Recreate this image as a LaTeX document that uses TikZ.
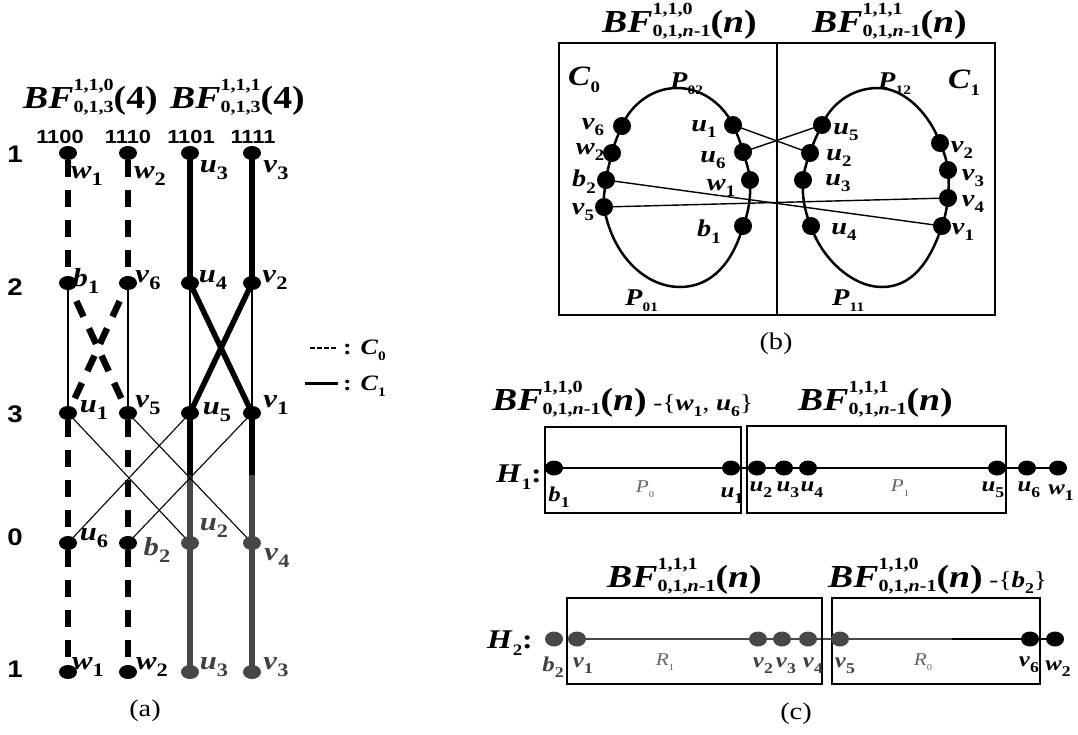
\documentclass[tikz,border=0pt]{standalone}
\usepackage{fontspec}
\setmainfont{Liberation Serif}[FakeStretch=1.18]
\newfontfamily\arialf{Liberation Sans}[FakeStretch=1.15]
\usetikzlibrary{shapes.geometric}
\pgfdeclarelayer{bg}
\pgfsetlayers{bg,main}
\newcommand\subsz{16}
\newcommand\lbl[2]{\textbf{\textit{#1}}\raisebox{-0.28em}{\fontsize{\subsz}{\subsz}\selectfont\bfseries #2}}
\newcommand\BFx[3]{\textbf{\textit{BF}}\rlap{\raisebox{0.55em}{\fontsize{\subsz}{\subsz}\selectfont\bfseries #1}}\raisebox{-0.15em}{\fontsize{\subsz}{\subsz}\selectfont\bfseries #2}\textbf{(#3)}}
\newcommand\plbl[2]{\textit{#1}\raisebox{-0.3em}{\fontsize{9}{9}\selectfont #2}}
\tikzset{
  every node/.style={inner sep=0pt},
  adot/.style={ellipse, fill=black, minimum width=18pt, minimum height=14pt},
  bdot/.style={circle, fill=black, minimum size=18pt},
  cdot/.style={ellipse, fill=black, minimum width=18pt, minimum height=15pt},
  gcol/.style={fill=black!72},
  gtxt/.style={text=black!75},
  labA/.style={font=\fontsize{26}{26}\selectfont\def\subsz{19}},
  labB/.style={font=\fontsize{24}{24}\selectfont\def\subsz{16}},
  labC/.style={font=\fontsize{21}{21}\selectfont\def\subsz{15}},
  labP/.style={anchor=base west, font=\fontsize{24}{24}\selectfont\def\subsz{13}},
  labH/.style={anchor=base west, font=\fontsize{27}{30}\selectfont\def\subsz{16}},
  labL/.style={anchor=west, font=\fontsize{22}{22}\selectfont\def\subsz{13}},
  labR/.style={font=\fontsize{18}{18}\selectfont, text=black!60},
  ttl/.style={anchor=base west, font=\fontsize{32}{32}\selectfont\def\subsz{17}},
  hdr/.style={font=\arialf\bfseries\fontsize{19}{19}\selectfont},
  rowlab/.style={font=\arialf\bfseries\fontsize{24}{24}\selectfont},
  capt/.style={font=\fontsize{24}{24}\selectfont},
  tdash/.style={line width=6.5pt, dash pattern=on 17pt off 13pt, dash phase=23pt},
  tsol/.style={line width=5.5pt},
  thn/.style={line width=1.1pt},
  pathl/.style={line width=2.6pt},
  boxl/.style={line width=1.3pt},
  loopl/.style={line width=2.5pt}
}
\begin{document}
\begin{tikzpicture}[x=1pt,y=-1pt]
\path[use as bounding box] (0,0) rectangle (1078,734);

% ===================== (a) =====================
\node[ttl] (ta1) at (23,108) {\BFx{1,1,0}{0,1,3}{4}};
\node[ttl] (ta2) at (170,108) {\BFx{1,1,1}{0,1,3}{4}};
\node[hdr] (h1) at (60,137) {1100};
\node[hdr] (h2) at (128,137) {1110};
\node[hdr] (h3) at (191,137) {1101};
\node[hdr] (h4) at (253,137) {1111};
\node[rowlab] (r1) at (15,154) {1};
\node[rowlab] (r2) at (15,287) {2};
\node[rowlab] (r3) at (15,414) {3};
\node[rowlab] (r0) at (15,537) {0};
\node[rowlab] (r4) at (15,669) {1};

\node[adot] (aw1t) at (68,153) {};
\node[adot] (aw2t) at (128,153) {};
\node[adot] (au3t) at (190,153) {};
\node[adot] (av3t) at (252,153) {};
\node[adot] (ab1) at (68,283) {};
\node[adot] (av6) at (128,283) {};
\node[adot] (au4) at (190,283) {};
\node[adot] (av2) at (252,283) {};
\node[adot] (au1) at (68,413) {};
\node[adot] (av5) at (128,413) {};
\node[adot] (au5) at (190,413) {};
\node[adot] (av1) at (252,413) {};
\node[adot] (au6) at (68,543) {};
\node[adot] (ab2) at (128,543) {};
\node[adot,gcol] (au2) at (190,543) {};
\node[adot,gcol] (av4) at (252,543) {};
\node[adot] (aw1b) at (68,672) {};
\node[adot] (aw2b) at (128,672) {};
\node[adot,gcol] (au3b) at (190,672) {};
\node[adot,gcol] (av3b) at (252,672) {};
\coordinate (g3) at (190,475);
\coordinate (g4) at (252,475);

\node[labA] (law1t) at (87,176) {\lbl{w}{1}};
\node[labA] (law2t) at (150,176) {\lbl{w}{2}};
\node[labA] (lau3t) at (214,170) {\lbl{u}{3}};
\node[labA] (lav3t) at (276,170) {\lbl{v}{3}};
\node[labA] (lab1) at (86,281) {\lbl{b}{1}};
\node[labA] (lav6) at (148,280) {\lbl{v}{6}};
\node[labA] (lau4) at (213,280) {\lbl{u}{4}};
\node[labA] (lav2) at (275,280) {\lbl{v}{2}};
\node[labA] (lau1) at (94,410) {\lbl{u}{1}};
\node[labA] (lav5) at (148,405) {\lbl{v}{5}};
\node[labA] (lau5) at (217,412) {\lbl{u}{5}};
\node[labA] (lav1) at (276,405) {\lbl{v}{1}};
\node[labA] (lau6) at (94,538) {\lbl{u}{6}};
\node[labA,gtxt] (lab2) at (157,550) {\lbl{b}{2}};
\node[labA,gtxt] (lau2) at (214,528) {\lbl{u}{2}};
\node[labA,gtxt] (lav4) at (277,558) {\lbl{v}{4}};
\node[labA] (law1b) at (88,667) {\lbl{w}{1}};
\node[labA] (law2b) at (152,667) {\lbl{w}{2}};
\node[labA,gtxt] (lau3b) at (214,667) {\lbl{u}{3}};
\node[labA,gtxt] (lav3b) at (276,667) {\lbl{v}{3}};

\begin{pgfonlayer}{bg}
  % column 1
  \draw[tdash] (aw1t.center) -- (ab1.center);
  \draw[thn] (ab1.center) -- (au1.center);
  \draw[tdash] (au1.center) -- (au6.center);
  \draw[tdash] (au6.center) -- (aw1b.center);
  % column 2
  \draw[tdash] (aw2t.center) -- (av6.center);
  \draw[thn] (av6.center) -- (av5.center);
  \draw[tdash] (av5.center) -- (ab2.center);
  \draw[tdash] (ab2.center) -- (aw2b.center);
  % column 3
  \draw[tsol] (au3t.center) -- (au4.center);
  \draw[thn] (au4.center) -- (au5.center);
  \draw[tsol] (au5.center) -- (g3);
  \draw[tsol,black!72] (g3) -- (au2.center);
  \draw[tsol,black!72] (au2.center) -- (au3b.center);
  % column 4
  \draw[tsol] (av3t.center) -- (av2.center);
  \draw[thn] (av2.center) -- (av1.center);
  \draw[tsol] (av1.center) -- (g4);
  \draw[tsol,black!72] (g4) -- (av4.center);
  \draw[tsol,black!72] (av4.center) -- (av3b.center);
  % crosses rows 2-3
  \draw[tdash,dash phase=10pt] (ab1.center) -- (av5.center);
  \draw[tdash,dash phase=10pt] (av6.center) -- (au1.center);
  \draw[tsol] (au4.center) -- (av1.center);
  \draw[tsol] (av2.center) -- (au5.center);
  % crosses rows 3-0
  \draw[thn] (au1.center) -- (au2.center);
  \draw[thn] (av5.center) -- (av4.center);
  \draw[thn] (au5.center) -- (au6.center);
  \draw[thn] (av1.center) -- (ab2.center);
\end{pgfonlayer}

% legend
\coordinate (lg0a) at (310,348);
\coordinate (lg0b) at (337,348);
\draw[line width=1.8pt, dash pattern=on 5pt off 2pt] (lg0a) -- (lg0b);
\node[labL] (lgc0) at (343,350) {\textbf{:} \lbl{C}{0}};
\coordinate (lg1a) at (305,383);
\coordinate (lg1b) at (338,383);
\draw[line width=3pt] (lg1a) -- (lg1b);
\node[labL] (lgc1) at (343,386) {\textbf{:} \lbl{C}{1}};

\node[capt] (capa) at (145,711) {(a)};

% ===================== (b) =====================
\node[ttl] (tb1) at (602,32) {\BFx{1,1,0}{0,1,\textit{n}-1}{\textit{n}}};
\node[ttl] (tb2) at (812,32) {\BFx{1,1,1}{0,1,\textit{n}-1}{\textit{n}}};
\draw[boxl] (559,43) rectangle (995,315);
\draw[boxl] (777,43) -- (777,315);

\node[labP,font=\fontsize{28}{28}\selectfont\def\subsz{16}] (lc0) at (568,85) {\lbl{C}{0}};
\node[labP,font=\fontsize{28}{28}\selectfont\def\subsz{16}] (lc1) at (948,88) {\lbl{C}{1}};
\node[labP] (lp02) at (670,88) {\lbl{P}{02}};
\node[labP] (lp12) at (878,88) {\lbl{P}{12}};
\node[labP] (lp01) at (625,305) {\lbl{P}{01}};
\node[labP] (lp11) at (832,305) {\lbl{P}{11}};

\node[bdot] (bv6) at (622,126) {};
\node[bdot] (bw2) at (612,153) {};
\node[bdot] (bb2) at (606,180) {};
\node[bdot] (bv5) at (604,207) {};
\node[bdot] (bu1) at (733,125) {};
\node[bdot] (bu6) at (743,152) {};
\node[bdot] (bw1) at (750,180) {};
\node[bdot] (bb1) at (743,226) {};
\node[bdot] (bu5) at (822,125) {};
\node[bdot] (bu2) at (810,153) {};
\node[bdot] (bu3) at (803,180) {};
\node[bdot] (bu4) at (811,226) {};
\node[bdot] (bv2) at (940,143) {};
\node[bdot] (bv3) at (948,170) {};
\node[bdot] (bv4) at (948,198) {};
\node[bdot] (bv1) at (942,226) {};

\coordinate (L0top) at (677,88);
\coordinate (L0bot) at (680,287);
\coordinate (R0top) at (878,88);
\coordinate (R0bot) at (882,287);

\node[labB] (lbv6) at (593,127) {\lbl{v}{6}};
\node[labB] (lbw2) at (590,152) {\lbl{w}{2}};
\node[labB] (lbb2) at (584,182) {\lbl{b}{2}};
\node[labB] (lbv5) at (583,212) {\lbl{v}{5}};
\node[labB] (lbu1) at (704,129) {\lbl{u}{1}};
\node[labB] (lbu6) at (713,160) {\lbl{u}{6}};
\node[labB] (lbw1) at (721,188) {\lbl{w}{1}};
\node[labB] (lbb1) at (709,232) {\lbl{b}{1}};
\node[labB] (lbu5) at (846,132) {\lbl{u}{5}};
\node[labB] (lbu2) at (839,158) {\lbl{u}{2}};
\node[labB] (lbu3) at (838,183) {\lbl{u}{3}};
\node[labB] (lbu4) at (844,232) {\lbl{u}{4}};
\node[labB] (lbv2) at (962,150) {\lbl{v}{2}};
\node[labB] (lbv3) at (973,178) {\lbl{v}{3}};
\node[labB] (lbv4) at (973,204) {\lbl{v}{4}};
\node[labB] (lbv1) at (963,232) {\lbl{v}{1}};

\begin{pgfonlayer}{bg}
  \draw[loopl] (bv6.center) .. controls (628,110) and (648,88) .. (L0top)
     .. controls (705,88) and (725,108) .. (bu1.center)
     .. controls (737,134) and (741,143) .. (bu6.center)
     .. controls (746,161) and (749,170) .. (bw1.center)
     .. controls (751,195) and (749,212) .. (bb1.center)
     .. controls (733,262) and (712,287) .. (L0bot)
     .. controls (645,287) and (612,255) .. (bv5.center)
     .. controls (603,198) and (605,189) .. (bb2.center)
     .. controls (607,171) and (610,162) .. (bw2.center)
     .. controls (614,144) and (618,135) .. (bv6.center);
  \draw[loopl] (bu5.center) .. controls (830,106) and (850,88) .. (R0top)
     .. controls (905,88) and (930,115) .. (bv2.center)
     .. controls (944,152) and (947,161) .. (bv3.center)
     .. controls (949,180) and (949,189) .. (bv4.center)
     .. controls (947,208) and (945,217) .. (bv1.center)
     .. controls (930,262) and (912,287) .. (R0bot)
     .. controls (850,287) and (820,255) .. (bu4.center)
     .. controls (804,210) and (802,195) .. (bu3.center)
     .. controls (804,170) and (807,161) .. (bu2.center)
     .. controls (813,143) and (818,133) .. (bu5.center);
  \draw[line width=1.4pt] (bu1.center) -- (bu2.center);
  \draw[line width=1.4pt] (bu6.center) -- (bu5.center);
  \draw[line width=1.4pt] (bb2.center) -- (bv1.center);
  \draw[line width=1.4pt] (bv5.center) -- (bv4.center);
\end{pgfonlayer}

\node[capt] (capb) at (776,344) {(b)};

% ===================== (c) =====================
\node[ttl] (tc1) at (492,410) {\BFx{1,1,0}{0,1,\textit{n}-1}{\textit{n}}{\fontsize{23}{23}\selectfont\def\subsz{15} -\{\lbl{w}{1}, \lbl{u}{6}\}}};
\node[ttl] (tc2) at (798,410) {\BFx{1,1,1}{0,1,\textit{n}-1}{\textit{n}}};
\draw[boxl] (545,427) rectangle (741,513);
\draw[boxl] (747,426) rectangle (1006,513);
\node[labH] (lh1) at (496,482) {\lbl{H}{1}\textbf{:}};

\node[cdot] (hb1) at (554,468) {};
\node[cdot] (hu1) at (731,468) {};
\node[cdot] (hu2) at (757,468) {};
\node[cdot] (hu3) at (784,468) {};
\node[cdot] (hu4) at (808,468) {};
\node[cdot] (hu5) at (997,468) {};
\node[cdot] (hu6) at (1027,468) {};
\node[cdot] (hw1) at (1058,468) {};
\begin{pgfonlayer}{bg}
  \draw[pathl] (hb1.center) -- (hw1.center);
\end{pgfonlayer}
\node[labC] (lhb1) at (559,497) {\lbl{b}{1}};
\node[labR] (lp0) at (645,489) {\plbl{P}{0}};
\node[labC] (lhu1) at (732,496) {\lbl{u}{1}};
\node[labC] (lhu2) at (761,490) {\lbl{u}{2}};
\node[labC] (lhu3) at (788,490) {\lbl{u}{3}};
\node[labC] (lhu4) at (812,490) {\lbl{u}{4}};
\node[labR] (lp1) at (900,488) {\plbl{P}{1}};
\node[labC] (lhu5) at (993,490) {\lbl{u}{5}};
\node[labC] (lhu6) at (1029,490) {\lbl{u}{6}};
\node[labC] (lhw1) at (1061,493) {\lbl{w}{1}};

\node[ttl] (tc3) at (607,587) {\BFx{1,1,1}{0,1,\textit{n}-1}{\textit{n}}};
\node[ttl] (tc4) at (828,587) {\BFx{1,1,0}{0,1,\textit{n}-1}{\textit{n}}{\fontsize{23}{23}\selectfont\def\subsz{15} -\{\lbl{b}{2}\}}};
\draw[boxl] (567,598) rectangle (822,684);
\draw[boxl] (832,598) rectangle (1040,684);
\node[labH] (lh2) at (487,648) {\lbl{H}{2}\textbf{:}};

\node[cdot,gcol] (hb2) at (554,639) {};
\node[cdot,gcol] (hv1) at (577,639) {};
\node[cdot,gcol] (hv2) at (758,639) {};
\node[cdot,gcol] (hv3) at (782,639) {};
\node[cdot,gcol] (hv4) at (808,639) {};
\node[cdot,gcol] (hv5) at (840,639) {};
\node[cdot] (hv6) at (1030,639) {};
\node[cdot] (hw2) at (1055,639) {};
\coordinate (hmid) at (952,639);
\begin{pgfonlayer}{bg}
  \draw[pathl,black!72] (hv1.center) -- (hmid);
  \draw[pathl] (hmid) -- (hw2.center);
\end{pgfonlayer}
\node[labC,gtxt] (lhb2) at (553,667) {\lbl{b}{2}};
\node[labC,gtxt] (lhv1) at (583,666) {\lbl{v}{1}};
\node[labR] (lr1) at (665,662) {\plbl{R}{1}};
\node[labC,gtxt] (lhv2) at (763,666) {\lbl{v}{2}};
\node[labC,gtxt] (lhv3) at (786,666) {\lbl{v}{3}};
\node[labC,gtxt] (lhv4) at (813,666) {\lbl{v}{4}};
\node[labC,gtxt] (lhv5) at (845,666) {\lbl{v}{5}};
\node[labR] (lr0) at (923,662) {\plbl{R}{0}};
\node[labC] (lhv6) at (1029,665) {\lbl{v}{6}};
\node[labC] (lhw2) at (1058,669) {\lbl{w}{2}};

\node[capt] (capc) at (796,714) {(c)};
\end{tikzpicture}
\end{document}
